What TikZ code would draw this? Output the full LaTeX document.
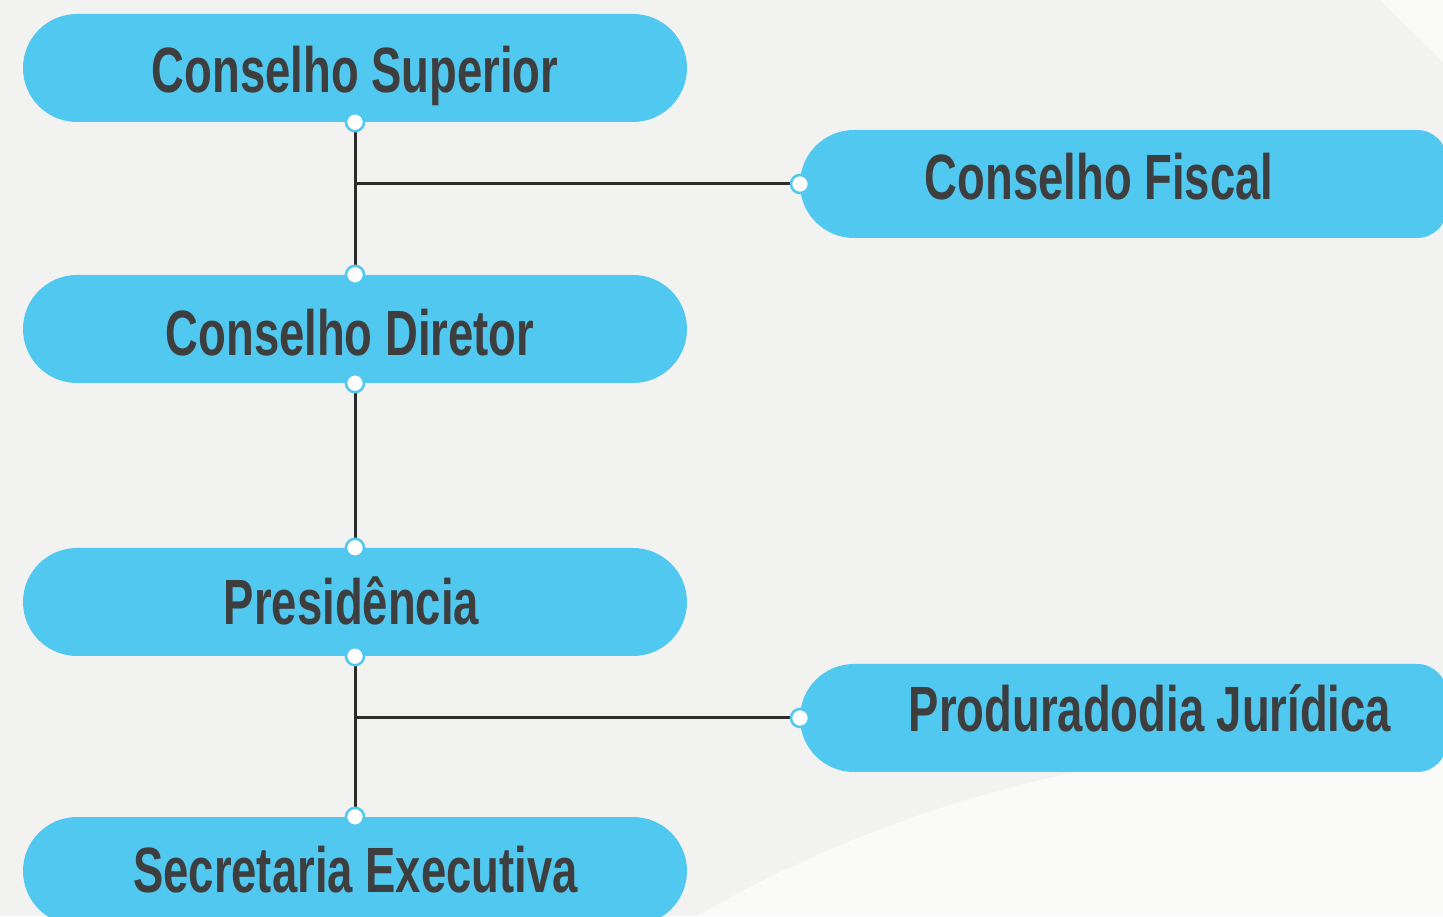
\documentclass[tikz,border=0pt]{standalone}
\usepackage{fontspec}
\setmainfont{Liberation Sans}[FakeStretch=0.71]
\usetikzlibrary{shapes.misc}
\definecolor{bg}{HTML}{F2F2F0}
\definecolor{bglight}{HTML}{FAFAF8}
\definecolor{pillblue}{HTML}{50C8F0}
\definecolor{txt}{HTML}{3E3E3E}
\definecolor{linec}{HTML}{2B2B2B}
\begin{document}
\begin{tikzpicture}[x=1pt,y=1pt,
  pill/.style={rounded rectangle, fill=pillblue, minimum width=664pt, minimum height=108pt, inner sep=0pt},
  rpill/.style={fill=pillblue},
  lbl/.style={anchor=base, text=txt, font=\fontsize{64}{64}\selectfont\bfseries, inner sep=0pt},
  dot/.style={circle, fill=white, draw=pillblue, line width=2.5pt, minimum size=18pt, inner sep=0pt},
  conn/.style={draw=linec, line width=3pt}]
% background
\fill[bg] (0,0) rectangle (1443,916);
\fill[bglight] (1380,916) -- (1443,916) -- (1443,854) -- cycle;
\fill[bglight] (697,0) .. controls (900,116) and (1100,166) .. (1443,196) -- (1443,0) -- cycle;
\useasboundingbox (0,0) rectangle (1443,916);
% left pills
\node[pill] (sup) at (355,848) {};
\node[pill] (dir) at (355,587) {};
\node[pill] (pres) at (355,314) {};
\node[pill] (sec) at (355,45) {};
% right pills
\fill[rpill] (854,786) -- (1417,786) arc[start angle=90, end angle=0, radius=30] -- (1447,708) arc[start angle=0, end angle=-90, radius=30] -- (854,678) arc[start angle=270, end angle=90, radius=54] -- cycle;
\node[coordinate] (fiscal) at (800,732) {};
\fill[rpill] (854,252) -- (1417,252) arc[start angle=90, end angle=0, radius=30] -- (1447,174) arc[start angle=0, end angle=-90, radius=30] -- (854,144) arc[start angle=270, end angle=90, radius=54] -- cycle;
\node[coordinate] (proc) at (800,198) {};
% connectors
\draw[conn] (sup.south) -- (dir.north);
\draw[conn] (sup.south |- fiscal) -- (fiscal);
\draw[conn] (dir.south) -- (pres.north);
\draw[conn] (pres.south) -- (sec.north);
\draw[conn] (pres.south |- proc) -- (proc);
% dots
\node[dot] (d1) at (sup.south) {};
\node[dot] (d2) at (dir.north) {};
\node[dot] (d3) at (dir.south) {};
\node[dot] (d4) at (pres.north) {};
\node[dot] (d5) at (pres.south) {};
\node[dot] (d6) at (sec.north) {};
\node[dot] (d7) at (fiscal) {};
\node[dot] (d8) at (proc) {};
% labels
\node[lbl] (tsup) at (355,823) {Conselho Superior};
\node[lbl] (tdir) at (350,560) {Conselho Diretor};
\node[lbl] (tpres) at (351.5,291) {Presidência};
\node[lbl] (tsec) at (355.5,24) {Secretaria Executiva};
\node[lbl] (tfis) at (1099,716) {Conselho Fiscal};
\node[lbl] (tproc) at (1150,184) {Produradodia Jurídica};
\end{tikzpicture}
\end{document}
